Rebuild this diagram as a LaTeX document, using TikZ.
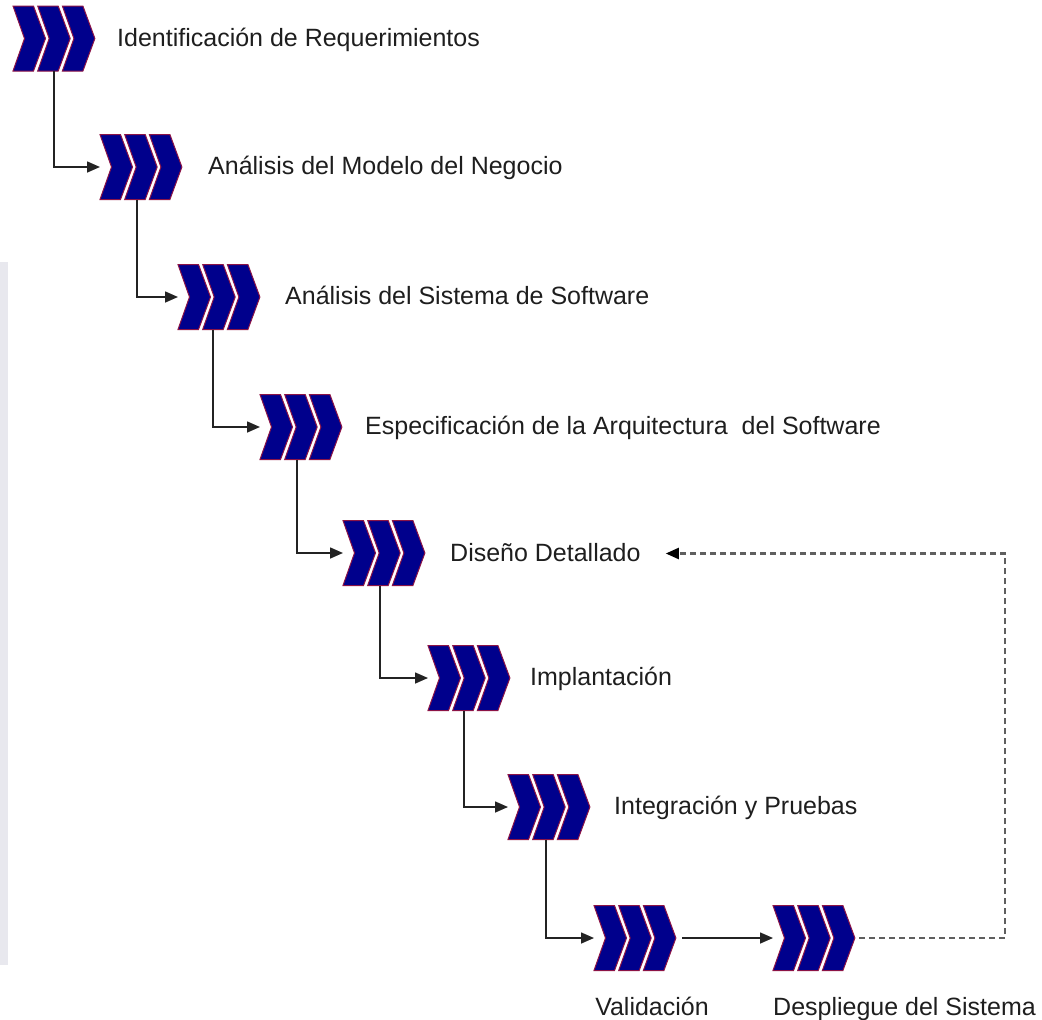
\documentclass[tikz,border=0pt]{standalone}
\usepackage{fontspec}
\setmainfont{Liberation Sans}
\usetikzlibrary{arrows.meta,calc}
\definecolor{chevfill}{RGB}{0,0,140}
\definecolor{chevedge}{RGB}{140,20,70}
\definecolor{lbl}{RGB}{30,30,30}
\definecolor{flow}{RGB}{35,35,35}
\definecolor{loopback}{RGB}{95,95,95}
\definecolor{strip}{RGB}{232,232,238}
\begin{document}
\begin{tikzpicture}[x=1pt,y=-1pt,
  stage/.style={minimum width=83pt,minimum height=65pt,inner sep=0pt,outer sep=0pt},
  chev/.style={fill=chevfill,draw=chevedge,line width=1pt,line join=miter},
  lab/.style={anchor=base west,inner sep=0pt,text=lbl,font=\fontsize{25}{30}\selectfont},
  flowline/.style={draw=flow,line width=1.6pt,-{Triangle[length=13pt,width=11pt]}},
  back/.style={draw=loopback,line width=2.2pt,dash pattern=on 6pt off 4pt,
    -{Triangle[length=13pt,width=11pt,color=black]}}]

\useasboundingbox (0,0) rectangle (1042,1020);
\fill[strip] (0,262) rectangle (8,965);

% process stages
\node[stage] (s1) at (54.5,38.5) {};
\node[stage] (s2) at (141.5,167) {};
\node[stage] (s3) at (219.5,297) {};
\node[stage] (s4) at (301.5,427) {};
\node[stage] (s5) at (384.5,553) {};
\node[stage] (s6) at (469.5,678) {};
\node[stage] (s7) at (549.5,807) {};
\node[stage] (s8) at (635.5,938) {};
\node[stage] (s9) at (814.5,938) {};

% three chevrons per stage
\foreach \s in {s1,s2,s3,s4,s5,s6,s7,s8,s9}{
  \foreach \k in {0,1,2}{
    \path[chev,shift={(\s.west)},xshift=\k*24.7pt]
      (0,-32.5) -- (20.5,-32.5) -- (32.5,0) -- (20.5,32.5) -- (0,32.5) -- (11.5,0) -- cycle;
  }
}

% stage labels
\node[lab] (t1) at (117,46) {Identificación de Requerimientos};
\node[lab] (t2) at (208,174.5) {Análisis del Modelo del Negocio};
\node[lab] (t3) at (285,304.5) {Análisis del Sistema de Software};
\node[lab] (t4) at (365,434.5) {Especificación de la Arquitectura \ del Software};
\node[lab] (t5) at (450,561) {Diseño Detallado};
\node[lab] (t6) at (530,685.5) {Implantación};
\node[lab] (t7) at (614,814.5) {Integración y Pruebas};
\node[lab,anchor=base] (t8) at (652,1015.5) {Validación};
\node[lab] (t9) at (773,1015.5) {Despliegue del Sistema};

% sequential flow
\draw[flowline] ([xshift=41pt]s1.south west) |- (s2.west);
\draw[flowline] ([xshift=37pt]s2.south west) |- (s3.west);
\draw[flowline] ([xshift=35pt]s3.south west) |- (s4.west);
\draw[flowline] ([xshift=37pt]s4.south west) |- (s5.west);
\draw[flowline] ([xshift=37pt]s5.south west) |- (s6.west);
\draw[flowline] ([xshift=36pt]s6.south west) |- (s7.west);
\draw[flowline] ([xshift=38pt]s7.south west) |- (s8.west);
\draw[flowline] ([xshift=5pt]s8.east) -- (s9.west);

% feedback from deployment back to detailed design
\coordinate (c1) at (1005,938);
\coordinate (c2) at (1005,553.5);
\draw[back] ([xshift=3pt]s9.east) -- (c1) -- (c2) -- ($(t5.east |- c2)+(25,0)$);
\end{tikzpicture}
\end{document}
